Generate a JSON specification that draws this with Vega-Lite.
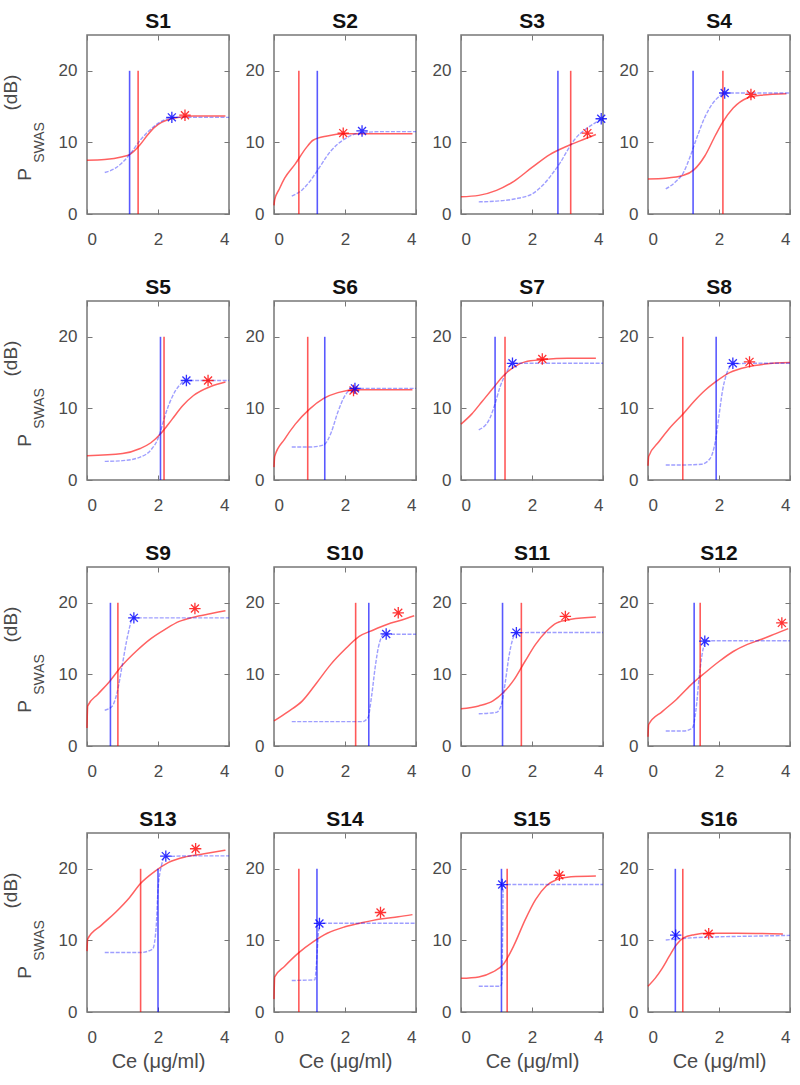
{
"$schema":"https://vega.github.io/schema/vega-lite/v6.json",
"padding":{"left":0,"top":9,"right":5,"bottom":5},
"datasets":{
"curves":[
{"p":"S1","s":"r","x":0,"y":7.5},{"p":"S1","s":"r","x":0.5,"y":7.6},{"p":"S1","s":"r","x":1.0,"y":8.0},{"p":"S1","s":"r","x":1.2,"y":8.3},{"p":"S1","s":"r","x":1.5,"y":9.7},{"p":"S1","s":"r","x":1.7,"y":11.0},{"p":"S1","s":"r","x":1.9,"y":12.1},{"p":"S1","s":"r","x":2.1,"y":12.8},{"p":"S1","s":"r","x":2.3,"y":13.2},{"p":"S1","s":"r","x":2.6,"y":13.5},{"p":"S1","s":"r","x":3.0,"y":13.7},{"p":"S1","s":"r","x":3.9,"y":13.7},
{"p":"S1","s":"b","x":0.5,"y":5.8},{"p":"S1","s":"b","x":0.8,"y":6.4},{"p":"S1","s":"b","x":1.0,"y":7.2},{"p":"S1","s":"b","x":1.2,"y":8.3},{"p":"S1","s":"b","x":1.5,"y":10.3},{"p":"S1","s":"b","x":1.9,"y":12.3},{"p":"S1","s":"b","x":2.2,"y":13.2},{"p":"S1","s":"b","x":2.4,"y":13.5},{"p":"S1","s":"b","x":3.0,"y":13.5},{"p":"S1","s":"b","x":4.0,"y":13.5},
{"p":"S2","s":"r","x":0,"y":1.2},{"p":"S2","s":"r","x":0.02,"y":2.0},{"p":"S2","s":"r","x":0.15,"y":3.5},{"p":"S2","s":"r","x":0.3,"y":5.0},{"p":"S2","s":"r","x":0.6,"y":7.0},{"p":"S2","s":"r","x":0.9,"y":9.2},{"p":"S2","s":"r","x":1.1,"y":10.3},{"p":"S2","s":"r","x":1.5,"y":10.9},{"p":"S2","s":"r","x":2.0,"y":11.2},{"p":"S2","s":"r","x":3.0,"y":11.2},{"p":"S2","s":"r","x":3.9,"y":11.2},
{"p":"S2","s":"b","x":0.5,"y":2.5},{"p":"S2","s":"b","x":0.8,"y":3.4},{"p":"S2","s":"b","x":1.0,"y":4.5},{"p":"S2","s":"b","x":1.2,"y":5.9},{"p":"S2","s":"b","x":1.6,"y":8.8},{"p":"S2","s":"b","x":2.0,"y":10.5},{"p":"S2","s":"b","x":2.4,"y":11.3},{"p":"S2","s":"b","x":3.0,"y":11.5},{"p":"S2","s":"b","x":4.0,"y":11.5},
{"p":"S3","s":"r","x":0,"y":2.4},{"p":"S3","s":"r","x":0.5,"y":2.6},{"p":"S3","s":"r","x":1.0,"y":3.3},{"p":"S3","s":"r","x":1.5,"y":4.6},{"p":"S3","s":"r","x":2.0,"y":6.5},{"p":"S3","s":"r","x":2.5,"y":8.3},{"p":"S3","s":"r","x":3.0,"y":9.5},{"p":"S3","s":"r","x":3.5,"y":10.5},{"p":"S3","s":"r","x":3.8,"y":11.1},
{"p":"S3","s":"b","x":0.5,"y":1.7},{"p":"S3","s":"b","x":1.0,"y":1.8},{"p":"S3","s":"b","x":1.5,"y":2.1},{"p":"S3","s":"b","x":2.0,"y":2.8},{"p":"S3","s":"b","x":2.3,"y":4.0},{"p":"S3","s":"b","x":2.6,"y":5.8},{"p":"S3","s":"b","x":2.8,"y":7.2},{"p":"S3","s":"b","x":3.0,"y":8.9},{"p":"S3","s":"b","x":3.2,"y":10.4},{"p":"S3","s":"b","x":3.5,"y":11.8},{"p":"S3","s":"b","x":3.8,"y":12.8},{"p":"S3","s":"b","x":3.95,"y":13.3},
{"p":"S4","s":"r","x":0,"y":4.9},{"p":"S4","s":"r","x":0.5,"y":5.0},{"p":"S4","s":"r","x":1.0,"y":5.4},{"p":"S4","s":"r","x":1.3,"y":6.2},{"p":"S4","s":"r","x":1.6,"y":8.1},{"p":"S4","s":"r","x":1.9,"y":11.0},{"p":"S4","s":"r","x":2.1,"y":12.8},{"p":"S4","s":"r","x":2.4,"y":14.8},{"p":"S4","s":"r","x":2.8,"y":16.2},{"p":"S4","s":"r","x":3.2,"y":16.6},{"p":"S4","s":"r","x":3.9,"y":16.8},
{"p":"S4","s":"b","x":0.5,"y":3.5},{"p":"S4","s":"b","x":0.8,"y":4.6},{"p":"S4","s":"b","x":1.0,"y":5.8},{"p":"S4","s":"b","x":1.2,"y":8.2},{"p":"S4","s":"b","x":1.4,"y":11.0},{"p":"S4","s":"b","x":1.6,"y":13.5},{"p":"S4","s":"b","x":1.8,"y":15.3},{"p":"S4","s":"b","x":2.0,"y":16.4},{"p":"S4","s":"b","x":2.15,"y":16.9},{"p":"S4","s":"b","x":3.0,"y":16.9},{"p":"S4","s":"b","x":4.0,"y":16.9},
{"p":"S5","s":"r","x":0,"y":3.4},{"p":"S5","s":"r","x":1.0,"y":3.7},{"p":"S5","s":"r","x":1.5,"y":4.4},{"p":"S5","s":"r","x":1.8,"y":5.2},{"p":"S5","s":"r","x":2.1,"y":6.6},{"p":"S5","s":"r","x":2.4,"y":8.5},{"p":"S5","s":"r","x":2.7,"y":10.4},{"p":"S5","s":"r","x":3.0,"y":11.8},{"p":"S5","s":"r","x":3.5,"y":13.1},{"p":"S5","s":"r","x":3.9,"y":13.7},
{"p":"S5","s":"b","x":0.5,"y":2.6},{"p":"S5","s":"b","x":1.0,"y":2.7},{"p":"S5","s":"b","x":1.5,"y":3.2},{"p":"S5","s":"b","x":1.8,"y":4.2},{"p":"S5","s":"b","x":2.0,"y":5.8},{"p":"S5","s":"b","x":2.1,"y":7.3},{"p":"S5","s":"b","x":2.2,"y":9.0},{"p":"S5","s":"b","x":2.4,"y":11.6},{"p":"S5","s":"b","x":2.6,"y":13.2},{"p":"S5","s":"b","x":2.8,"y":13.9},{"p":"S5","s":"b","x":4.0,"y":13.9},
{"p":"S6","s":"r","x":0,"y":1.8},{"p":"S6","s":"r","x":0.02,"y":3.3},{"p":"S6","s":"r","x":0.3,"y":5.7},{"p":"S6","s":"r","x":0.6,"y":7.8},{"p":"S6","s":"r","x":1.0,"y":9.9},{"p":"S6","s":"r","x":1.4,"y":11.4},{"p":"S6","s":"r","x":1.8,"y":12.2},{"p":"S6","s":"r","x":2.3,"y":12.6},{"p":"S6","s":"r","x":3.0,"y":12.6},{"p":"S6","s":"r","x":3.9,"y":12.6},
{"p":"S6","s":"b","x":0.5,"y":4.6},{"p":"S6","s":"b","x":1.0,"y":4.6},{"p":"S6","s":"b","x":1.4,"y":4.9},{"p":"S6","s":"b","x":1.6,"y":6.5},{"p":"S6","s":"b","x":1.8,"y":9.5},{"p":"S6","s":"b","x":2.0,"y":11.8},{"p":"S6","s":"b","x":2.25,"y":12.8},{"p":"S6","s":"b","x":3.0,"y":12.8},{"p":"S6","s":"b","x":4.0,"y":12.8},
{"p":"S7","s":"r","x":0,"y":7.8},{"p":"S7","s":"r","x":0.3,"y":9.2},{"p":"S7","s":"r","x":0.6,"y":11.0},{"p":"S7","s":"r","x":0.9,"y":12.8},{"p":"S7","s":"r","x":1.2,"y":14.6},{"p":"S7","s":"r","x":1.5,"y":15.8},{"p":"S7","s":"r","x":1.8,"y":16.5},{"p":"S7","s":"r","x":2.3,"y":16.8},{"p":"S7","s":"r","x":3.0,"y":17.0},{"p":"S7","s":"r","x":3.8,"y":17.0},
{"p":"S7","s":"b","x":0.5,"y":7.0},{"p":"S7","s":"b","x":0.8,"y":8.5},{"p":"S7","s":"b","x":0.95,"y":10.5},{"p":"S7","s":"b","x":1.1,"y":13.0},{"p":"S7","s":"b","x":1.3,"y":15.2},{"p":"S7","s":"b","x":1.45,"y":16.3},{"p":"S7","s":"b","x":2.0,"y":16.3},{"p":"S7","s":"b","x":4.0,"y":16.3},
{"p":"S8","s":"r","x":0,"y":2.0},{"p":"S8","s":"r","x":0.02,"y":3.3},{"p":"S8","s":"r","x":0.3,"y":5.3},{"p":"S8","s":"r","x":0.6,"y":7.2},{"p":"S8","s":"r","x":1.0,"y":9.3},{"p":"S8","s":"r","x":1.3,"y":11.0},{"p":"S8","s":"r","x":1.6,"y":12.5},{"p":"S8","s":"r","x":1.9,"y":13.7},{"p":"S8","s":"r","x":2.3,"y":15.0},{"p":"S8","s":"r","x":2.8,"y":15.8},{"p":"S8","s":"r","x":3.3,"y":16.2},{"p":"S8","s":"r","x":4.0,"y":16.4},
{"p":"S8","s":"b","x":0.5,"y":2.1},{"p":"S8","s":"b","x":1.0,"y":2.1},{"p":"S8","s":"b","x":1.5,"y":2.2},{"p":"S8","s":"b","x":1.75,"y":3.0},{"p":"S8","s":"b","x":1.9,"y":5.5},{"p":"S8","s":"b","x":2.0,"y":9.0},{"p":"S8","s":"b","x":2.1,"y":12.5},{"p":"S8","s":"b","x":2.2,"y":14.6},{"p":"S8","s":"b","x":2.4,"y":16.2},{"p":"S8","s":"b","x":3.0,"y":16.3},{"p":"S8","s":"b","x":4.0,"y":16.3},
{"p":"S9","s":"r","x":0,"y":2.5},{"p":"S9","s":"r","x":0.02,"y":5.6},{"p":"S9","s":"r","x":0.3,"y":7.2},{"p":"S9","s":"r","x":0.6,"y":8.8},{"p":"S9","s":"r","x":1.0,"y":11.3},{"p":"S9","s":"r","x":1.4,"y":13.3},{"p":"S9","s":"r","x":1.8,"y":15.0},{"p":"S9","s":"r","x":2.2,"y":16.3},{"p":"S9","s":"r","x":2.6,"y":17.4},{"p":"S9","s":"r","x":3.0,"y":18.0},{"p":"S9","s":"r","x":3.5,"y":18.5},{"p":"S9","s":"r","x":3.9,"y":18.9},
{"p":"S9","s":"b","x":0.5,"y":5.0},{"p":"S9","s":"b","x":0.7,"y":5.5},{"p":"S9","s":"b","x":0.85,"y":7.5},{"p":"S9","s":"b","x":1.0,"y":11.5},{"p":"S9","s":"b","x":1.15,"y":15.5},{"p":"S9","s":"b","x":1.3,"y":17.9},{"p":"S9","s":"b","x":2.0,"y":17.9},{"p":"S9","s":"b","x":4.0,"y":17.9},
{"p":"S10","s":"r","x":0,"y":3.5},{"p":"S10","s":"r","x":0.4,"y":4.8},{"p":"S10","s":"r","x":0.8,"y":6.3},{"p":"S10","s":"r","x":1.2,"y":8.8},{"p":"S10","s":"r","x":1.6,"y":11.4},{"p":"S10","s":"r","x":2.0,"y":13.5},{"p":"S10","s":"r","x":2.4,"y":15.3},{"p":"S10","s":"r","x":2.8,"y":16.2},{"p":"S10","s":"r","x":3.2,"y":17.0},{"p":"S10","s":"r","x":3.6,"y":17.6},{"p":"S10","s":"r","x":3.95,"y":18.2},
{"p":"S10","s":"b","x":0.5,"y":3.4},{"p":"S10","s":"b","x":1.5,"y":3.4},{"p":"S10","s":"b","x":2.5,"y":3.4},{"p":"S10","s":"b","x":2.65,"y":4.0},{"p":"S10","s":"b","x":2.75,"y":7.0},{"p":"S10","s":"b","x":2.85,"y":11.0},{"p":"S10","s":"b","x":2.95,"y":14.0},{"p":"S10","s":"b","x":3.1,"y":15.6},{"p":"S10","s":"b","x":3.5,"y":15.6},{"p":"S10","s":"b","x":4.0,"y":15.6},
{"p":"S11","s":"r","x":0,"y":5.2},{"p":"S11","s":"r","x":0.5,"y":5.6},{"p":"S11","s":"r","x":0.9,"y":6.3},{"p":"S11","s":"r","x":1.2,"y":7.5},{"p":"S11","s":"r","x":1.5,"y":9.3},{"p":"S11","s":"r","x":1.8,"y":11.8},{"p":"S11","s":"r","x":2.1,"y":14.2},{"p":"S11","s":"r","x":2.4,"y":16.0},{"p":"S11","s":"r","x":2.7,"y":17.2},{"p":"S11","s":"r","x":3.1,"y":17.7},{"p":"S11","s":"r","x":3.8,"y":18.0},
{"p":"S11","s":"b","x":0.5,"y":4.5},{"p":"S11","s":"b","x":1.0,"y":4.7},{"p":"S11","s":"b","x":1.15,"y":6.0},{"p":"S11","s":"b","x":1.25,"y":9.0},{"p":"S11","s":"b","x":1.35,"y":12.5},{"p":"S11","s":"b","x":1.45,"y":14.8},{"p":"S11","s":"b","x":1.55,"y":15.8},{"p":"S11","s":"b","x":2.0,"y":15.85},{"p":"S11","s":"b","x":4.0,"y":15.85},
{"p":"S12","s":"r","x":0,"y":1.3},{"p":"S12","s":"r","x":0.02,"y":3.0},{"p":"S12","s":"r","x":0.4,"y":4.8},{"p":"S12","s":"r","x":0.8,"y":6.5},{"p":"S12","s":"r","x":1.2,"y":8.5},{"p":"S12","s":"r","x":1.6,"y":10.2},{"p":"S12","s":"r","x":2.0,"y":11.8},{"p":"S12","s":"r","x":2.4,"y":13.2},{"p":"S12","s":"r","x":2.8,"y":14.2},{"p":"S12","s":"r","x":3.2,"y":14.9},{"p":"S12","s":"r","x":3.6,"y":15.7},{"p":"S12","s":"r","x":3.95,"y":16.4},
{"p":"S12","s":"b","x":0.5,"y":2.1},{"p":"S12","s":"b","x":1.0,"y":2.1},{"p":"S12","s":"b","x":1.25,"y":2.5},{"p":"S12","s":"b","x":1.35,"y":5.0},{"p":"S12","s":"b","x":1.45,"y":10.0},{"p":"S12","s":"b","x":1.55,"y":13.5},{"p":"S12","s":"b","x":1.65,"y":14.7},{"p":"S12","s":"b","x":2.0,"y":14.7},{"p":"S12","s":"b","x":4.0,"y":14.7},
{"p":"S13","s":"r","x":0,"y":8.5},{"p":"S13","s":"r","x":0.02,"y":10.2},{"p":"S13","s":"r","x":0.4,"y":12.1},{"p":"S13","s":"r","x":0.8,"y":13.9},{"p":"S13","s":"r","x":1.2,"y":16.0},{"p":"S13","s":"r","x":1.5,"y":17.9},{"p":"S13","s":"r","x":1.9,"y":19.6},{"p":"S13","s":"r","x":2.3,"y":20.9},{"p":"S13","s":"r","x":2.8,"y":21.7},{"p":"S13","s":"r","x":3.3,"y":22.1},{"p":"S13","s":"r","x":3.9,"y":22.6},
{"p":"S13","s":"b","x":0.5,"y":8.3},{"p":"S13","s":"b","x":1.5,"y":8.3},{"p":"S13","s":"b","x":1.85,"y":8.8},{"p":"S13","s":"b","x":1.95,"y":12.0},{"p":"S13","s":"b","x":2.0,"y":17.0},{"p":"S13","s":"b","x":2.1,"y":20.5},{"p":"S13","s":"b","x":2.2,"y":21.7},{"p":"S13","s":"b","x":3.0,"y":21.8},{"p":"S13","s":"b","x":4.0,"y":21.8},
{"p":"S14","s":"r","x":0,"y":1.8},{"p":"S14","s":"r","x":0.02,"y":4.9},{"p":"S14","s":"r","x":0.3,"y":6.4},{"p":"S14","s":"r","x":0.7,"y":8.3},{"p":"S14","s":"r","x":1.1,"y":9.8},{"p":"S14","s":"r","x":1.5,"y":11.0},{"p":"S14","s":"r","x":2.0,"y":11.9},{"p":"S14","s":"r","x":2.5,"y":12.5},{"p":"S14","s":"r","x":3.0,"y":13.0},{"p":"S14","s":"r","x":3.5,"y":13.3},{"p":"S14","s":"r","x":3.9,"y":13.6},
{"p":"S14","s":"b","x":0.5,"y":4.4},{"p":"S14","s":"b","x":1.15,"y":4.5},{"p":"S14","s":"b","x":1.2,"y":7.0},{"p":"S14","s":"b","x":1.25,"y":11.0},{"p":"S14","s":"b","x":1.3,"y":12.4},{"p":"S14","s":"b","x":2.0,"y":12.4},{"p":"S14","s":"b","x":4.0,"y":12.4},
{"p":"S15","s":"r","x":0,"y":4.7},{"p":"S15","s":"r","x":0.5,"y":4.9},{"p":"S15","s":"r","x":0.9,"y":5.6},{"p":"S15","s":"r","x":1.2,"y":6.7},{"p":"S15","s":"r","x":1.5,"y":9.4},{"p":"S15","s":"r","x":1.8,"y":12.8},{"p":"S15","s":"r","x":2.1,"y":15.7},{"p":"S15","s":"r","x":2.4,"y":17.6},{"p":"S15","s":"r","x":2.7,"y":18.5},{"p":"S15","s":"r","x":3.1,"y":18.9},{"p":"S15","s":"r","x":3.8,"y":19.0},
{"p":"S15","s":"b","x":0.5,"y":3.6},{"p":"S15","s":"b","x":1.1,"y":3.6},{"p":"S15","s":"b","x":1.15,"y":4.0},{"p":"S15","s":"b","x":1.17,"y":10.0},{"p":"S15","s":"b","x":1.19,"y":17.5},{"p":"S15","s":"b","x":1.22,"y":17.8},{"p":"S15","s":"b","x":2.0,"y":17.8},{"p":"S15","s":"b","x":4.0,"y":17.8},
{"p":"S16","s":"r","x":0,"y":3.6},{"p":"S16","s":"r","x":0.2,"y":4.7},{"p":"S16","s":"r","x":0.4,"y":6.1},{"p":"S16","s":"r","x":0.6,"y":7.8},{"p":"S16","s":"r","x":0.8,"y":9.4},{"p":"S16","s":"r","x":1.0,"y":10.35},{"p":"S16","s":"r","x":1.3,"y":10.8},{"p":"S16","s":"r","x":1.7,"y":11.0},{"p":"S16","s":"r","x":2.5,"y":11.0},{"p":"S16","s":"r","x":3.8,"y":10.9},
{"p":"S16","s":"b","x":0.5,"y":10.05},{"p":"S16","s":"b","x":0.8,"y":10.2},{"p":"S16","s":"b","x":1.2,"y":10.35},{"p":"S16","s":"b","x":2.0,"y":10.5},{"p":"S16","s":"b","x":3.0,"y":10.6},{"p":"S16","s":"b","x":4.0,"y":10.7}
],
"vlines":[
{"p":"S1","s":"r","x":1.44,"y0":0,"y1":20},{"p":"S1","s":"b","x":1.2,"y0":0,"y1":20},
{"p":"S2","s":"r","x":0.7,"y0":0,"y1":20},{"p":"S2","s":"b","x":1.22,"y0":0,"y1":20},
{"p":"S3","s":"r","x":3.09,"y0":0,"y1":20},{"p":"S3","s":"b","x":2.73,"y0":0,"y1":20},
{"p":"S4","s":"r","x":2.11,"y0":0,"y1":20},{"p":"S4","s":"b","x":1.27,"y0":0,"y1":20},
{"p":"S5","s":"r","x":2.17,"y0":0,"y1":20},{"p":"S5","s":"b","x":2.07,"y0":0,"y1":20},
{"p":"S6","s":"r","x":0.95,"y0":0,"y1":20},{"p":"S6","s":"b","x":1.43,"y0":0,"y1":20},
{"p":"S7","s":"r","x":1.24,"y0":0,"y1":20},{"p":"S7","s":"b","x":0.96,"y0":0,"y1":20},
{"p":"S8","s":"r","x":0.98,"y0":0,"y1":20},{"p":"S8","s":"b","x":1.92,"y0":0,"y1":20},
{"p":"S9","s":"r","x":0.87,"y0":0,"y1":20},{"p":"S9","s":"b","x":0.66,"y0":0,"y1":20},
{"p":"S10","s":"r","x":2.3,"y0":0,"y1":20},{"p":"S10","s":"b","x":2.67,"y0":0,"y1":20},
{"p":"S11","s":"r","x":1.7,"y0":0,"y1":20},{"p":"S11","s":"b","x":1.17,"y0":0,"y1":20},
{"p":"S12","s":"r","x":1.47,"y0":0,"y1":20},{"p":"S12","s":"b","x":1.3,"y0":0,"y1":20},
{"p":"S13","s":"r","x":1.51,"y0":0,"y1":20},{"p":"S13","s":"b","x":2.0,"y0":0,"y1":20},
{"p":"S14","s":"r","x":0.7,"y0":0,"y1":20},{"p":"S14","s":"b","x":1.21,"y0":0,"y1":20},
{"p":"S15","s":"r","x":1.3,"y0":0,"y1":20},{"p":"S15","s":"b","x":1.14,"y0":0,"y1":20},
{"p":"S16","s":"r","x":0.98,"y0":0,"y1":20},{"p":"S16","s":"b","x":0.77,"y0":0,"y1":20}
],
"stars":[
{"p":"S1","s":"r","x":2.76,"y":13.8},{"p":"S1","s":"b","x":2.39,"y":13.5},
{"p":"S2","s":"r","x":1.95,"y":11.3},{"p":"S2","s":"b","x":2.48,"y":11.6},
{"p":"S3","s":"r","x":3.56,"y":11.3},{"p":"S3","s":"b","x":3.95,"y":13.3},
{"p":"S4","s":"r","x":2.9,"y":16.7},{"p":"S4","s":"b","x":2.16,"y":16.9},
{"p":"S5","s":"r","x":3.41,"y":13.9},{"p":"S5","s":"b","x":2.8,"y":13.9},
{"p":"S6","s":"r","x":2.24,"y":12.5},{"p":"S6","s":"b","x":2.28,"y":12.8},
{"p":"S7","s":"r","x":2.29,"y":16.9},{"p":"S7","s":"b","x":1.45,"y":16.3},
{"p":"S8","s":"r","x":2.86,"y":16.5},{"p":"S8","s":"b","x":2.39,"y":16.3},
{"p":"S9","s":"r","x":3.04,"y":19.2},{"p":"S9","s":"b","x":1.32,"y":17.9},
{"p":"S10","s":"r","x":3.5,"y":18.6},{"p":"S10","s":"b","x":3.16,"y":15.65},
{"p":"S11","s":"r","x":2.94,"y":18.1},{"p":"S11","s":"b","x":1.56,"y":15.84},
{"p":"S12","s":"r","x":3.77,"y":17.2},{"p":"S12","s":"b","x":1.6,"y":14.64},
{"p":"S13","s":"r","x":3.06,"y":22.8},{"p":"S13","s":"b","x":2.22,"y":21.77},
{"p":"S14","s":"r","x":3.0,"y":13.9},{"p":"S14","s":"b","x":1.28,"y":12.37},
{"p":"S15","s":"r","x":2.77,"y":19.1},{"p":"S15","s":"b","x":1.16,"y":17.8},
{"p":"S16","s":"r","x":1.71,"y":10.93},{"p":"S16","s":"b","x":0.78,"y":10.74}
]
},
"columns":4,
"spacing":{"row":87,"column":45},
"bounds":"flush",
"concat":[
{"title":"S1","width":142,"height":179,"resolve":{"scale":{"x":"independent","y":"independent"},"axis":{"x":"independent","y":"independent"}},"layer":[
{"data":{"name":"curves"},"transform":[{"filter":"datum.p=='S1'&&datum.s=='r'"}],"mark":{"type":"line","color":"#ff0000","opacity":0.62,"strokeWidth":1.5,"interpolate":"monotone"},"encoding":{"x":{"field":"x","type":"quantitative","scale":{"domain":[0,4]},"axis":{"orient":"bottom","values":[0,2,4],"title":null}},"y":{"field":"y","type":"quantitative","scale":{"domain":[0,25],"nice":false},"axis":{"orient":"left","values":[0,10,20],"title":"P","titleX":-53,"titleY":139}}}},
{"data":{"name":"curves"},"transform":[{"filter":"datum.p=='S1'&&datum.s=='b'"}],"mark":{"type":"line","color":"#0000ff","opacity":0.38,"strokeWidth":1.4,"strokeDash":[4,1.5],"interpolate":"monotone"},"encoding":{"x":{"field":"x","type":"quantitative","scale":{"domain":[0,4]},"axis":{"orient":"top","values":[0,2,4],"labels":false,"title":null}},"y":{"field":"y","type":"quantitative","scale":{"domain":[0,25],"nice":false},"axis":{"orient":"left","labels":false,"ticks":false,"title":"SWAS","titleFontSize":14,"titleX":-41,"titleY":107}}}},
{"data":{"name":"vlines"},"transform":[{"filter":"datum.p=='S1'"}],"mark":{"type":"rule","strokeWidth":1.6,"opacity":0.65},"encoding":{"x":{"field":"x","type":"quantitative","scale":{"domain":[0,4]},"axis":null},"y":{"field":"y0","type":"quantitative","scale":{"domain":[0,25],"nice":false},"axis":{"orient":"left","labels":false,"ticks":false,"title":"(dB)","titleX":-66.5,"titleY":57}},"y2":{"field":"y1"},"color":{"field":"s","type":"nominal","scale":{"domain":["r","b"],"range":["#ff0000","#0000ff"]},"legend":null}}},
{"data":{"name":"stars"},"transform":[{"filter":"datum.p=='S1'"}],"mark":{"type":"point","shape":"M-1,0L1,0M0,-1L0,1M-0.7,-0.7L0.7,0.7M-0.7,0.7L0.7,-0.7","filled":false,"size":130,"strokeWidth":1.3,"opacity":0.8},"encoding":{"x":{"field":"x","type":"quantitative","scale":{"domain":[0,4]},"axis":null},"y":{"field":"y","type":"quantitative","scale":{"domain":[0,25],"nice":false},"axis":{"orient":"right","values":[0,10,20],"labels":false,"title":null}},"color":{"field":"s","type":"nominal","scale":{"domain":["r","b"],"range":["#ff0000","#0000ff"]},"legend":null}}}
]},
{"title":"S2","width":142,"height":179,"resolve":{"scale":{"x":"independent","y":"independent"},"axis":{"x":"independent","y":"independent"}},"layer":[
{"data":{"name":"curves"},"transform":[{"filter":"datum.p=='S2'&&datum.s=='r'"}],"mark":{"type":"line","color":"#ff0000","opacity":0.62,"strokeWidth":1.5,"interpolate":"monotone"},"encoding":{"x":{"field":"x","type":"quantitative","scale":{"domain":[0,4]},"axis":{"orient":"bottom","values":[0,2,4],"title":null}},"y":{"field":"y","type":"quantitative","scale":{"domain":[0,25],"nice":false},"axis":{"orient":"left","values":[0,10,20],"title":null}}}},
{"data":{"name":"curves"},"transform":[{"filter":"datum.p=='S2'&&datum.s=='b'"}],"mark":{"type":"line","color":"#0000ff","opacity":0.38,"strokeWidth":1.4,"strokeDash":[4,1.5],"interpolate":"monotone"},"encoding":{"x":{"field":"x","type":"quantitative","scale":{"domain":[0,4]},"axis":{"orient":"top","values":[0,2,4],"labels":false,"title":null}},"y":{"field":"y","type":"quantitative","scale":{"domain":[0,25],"nice":false},"axis":{"orient":"right","values":[0,10,20],"labels":false,"title":null}}}},
{"data":{"name":"vlines"},"transform":[{"filter":"datum.p=='S2'"}],"mark":{"type":"rule","strokeWidth":1.6,"opacity":0.65},"encoding":{"x":{"field":"x","type":"quantitative","scale":{"domain":[0,4]},"axis":null},"y":{"field":"y0","type":"quantitative","scale":{"domain":[0,25],"nice":false},"axis":null},"y2":{"field":"y1"},"color":{"field":"s","type":"nominal","scale":{"domain":["r","b"],"range":["#ff0000","#0000ff"]},"legend":null}}},
{"data":{"name":"stars"},"transform":[{"filter":"datum.p=='S2'"}],"mark":{"type":"point","shape":"M-1,0L1,0M0,-1L0,1M-0.7,-0.7L0.7,0.7M-0.7,0.7L0.7,-0.7","filled":false,"size":130,"strokeWidth":1.3,"opacity":0.8},"encoding":{"x":{"field":"x","type":"quantitative","scale":{"domain":[0,4]},"axis":null},"y":{"field":"y","type":"quantitative","scale":{"domain":[0,25],"nice":false},"axis":null},"color":{"field":"s","type":"nominal","scale":{"domain":["r","b"],"range":["#ff0000","#0000ff"]},"legend":null}}}
]},
{"title":"S3","width":142,"height":179,"resolve":{"scale":{"x":"independent","y":"independent"},"axis":{"x":"independent","y":"independent"}},"layer":[
{"data":{"name":"curves"},"transform":[{"filter":"datum.p=='S3'&&datum.s=='r'"}],"mark":{"type":"line","color":"#ff0000","opacity":0.62,"strokeWidth":1.5,"interpolate":"monotone"},"encoding":{"x":{"field":"x","type":"quantitative","scale":{"domain":[0,4]},"axis":{"orient":"bottom","values":[0,2,4],"title":null}},"y":{"field":"y","type":"quantitative","scale":{"domain":[0,25],"nice":false},"axis":{"orient":"left","values":[0,10,20],"title":null}}}},
{"data":{"name":"curves"},"transform":[{"filter":"datum.p=='S3'&&datum.s=='b'"}],"mark":{"type":"line","color":"#0000ff","opacity":0.38,"strokeWidth":1.4,"strokeDash":[4,1.5],"interpolate":"monotone"},"encoding":{"x":{"field":"x","type":"quantitative","scale":{"domain":[0,4]},"axis":{"orient":"top","values":[0,2,4],"labels":false,"title":null}},"y":{"field":"y","type":"quantitative","scale":{"domain":[0,25],"nice":false},"axis":{"orient":"right","values":[0,10,20],"labels":false,"title":null}}}},
{"data":{"name":"vlines"},"transform":[{"filter":"datum.p=='S3'"}],"mark":{"type":"rule","strokeWidth":1.6,"opacity":0.65},"encoding":{"x":{"field":"x","type":"quantitative","scale":{"domain":[0,4]},"axis":null},"y":{"field":"y0","type":"quantitative","scale":{"domain":[0,25],"nice":false},"axis":null},"y2":{"field":"y1"},"color":{"field":"s","type":"nominal","scale":{"domain":["r","b"],"range":["#ff0000","#0000ff"]},"legend":null}}},
{"data":{"name":"stars"},"transform":[{"filter":"datum.p=='S3'"}],"mark":{"type":"point","shape":"M-1,0L1,0M0,-1L0,1M-0.7,-0.7L0.7,0.7M-0.7,0.7L0.7,-0.7","filled":false,"size":130,"strokeWidth":1.3,"opacity":0.8},"encoding":{"x":{"field":"x","type":"quantitative","scale":{"domain":[0,4]},"axis":null},"y":{"field":"y","type":"quantitative","scale":{"domain":[0,25],"nice":false},"axis":null},"color":{"field":"s","type":"nominal","scale":{"domain":["r","b"],"range":["#ff0000","#0000ff"]},"legend":null}}}
]},
{"title":"S4","width":142,"height":179,"resolve":{"scale":{"x":"independent","y":"independent"},"axis":{"x":"independent","y":"independent"}},"layer":[
{"data":{"name":"curves"},"transform":[{"filter":"datum.p=='S4'&&datum.s=='r'"}],"mark":{"type":"line","color":"#ff0000","opacity":0.62,"strokeWidth":1.5,"interpolate":"monotone"},"encoding":{"x":{"field":"x","type":"quantitative","scale":{"domain":[0,4]},"axis":{"orient":"bottom","values":[0,2,4],"title":null}},"y":{"field":"y","type":"quantitative","scale":{"domain":[0,25],"nice":false},"axis":{"orient":"left","values":[0,10,20],"title":null}}}},
{"data":{"name":"curves"},"transform":[{"filter":"datum.p=='S4'&&datum.s=='b'"}],"mark":{"type":"line","color":"#0000ff","opacity":0.38,"strokeWidth":1.4,"strokeDash":[4,1.5],"interpolate":"monotone"},"encoding":{"x":{"field":"x","type":"quantitative","scale":{"domain":[0,4]},"axis":{"orient":"top","values":[0,2,4],"labels":false,"title":null}},"y":{"field":"y","type":"quantitative","scale":{"domain":[0,25],"nice":false},"axis":{"orient":"right","values":[0,10,20],"labels":false,"title":null}}}},
{"data":{"name":"vlines"},"transform":[{"filter":"datum.p=='S4'"}],"mark":{"type":"rule","strokeWidth":1.6,"opacity":0.65},"encoding":{"x":{"field":"x","type":"quantitative","scale":{"domain":[0,4]},"axis":null},"y":{"field":"y0","type":"quantitative","scale":{"domain":[0,25],"nice":false},"axis":null},"y2":{"field":"y1"},"color":{"field":"s","type":"nominal","scale":{"domain":["r","b"],"range":["#ff0000","#0000ff"]},"legend":null}}},
{"data":{"name":"stars"},"transform":[{"filter":"datum.p=='S4'"}],"mark":{"type":"point","shape":"M-1,0L1,0M0,-1L0,1M-0.7,-0.7L0.7,0.7M-0.7,0.7L0.7,-0.7","filled":false,"size":130,"strokeWidth":1.3,"opacity":0.8},"encoding":{"x":{"field":"x","type":"quantitative","scale":{"domain":[0,4]},"axis":null},"y":{"field":"y","type":"quantitative","scale":{"domain":[0,25],"nice":false},"axis":null},"color":{"field":"s","type":"nominal","scale":{"domain":["r","b"],"range":["#ff0000","#0000ff"]},"legend":null}}}
]},
{"title":"S5","width":142,"height":179,"resolve":{"scale":{"x":"independent","y":"independent"},"axis":{"x":"independent","y":"independent"}},"layer":[
{"data":{"name":"curves"},"transform":[{"filter":"datum.p=='S5'&&datum.s=='r'"}],"mark":{"type":"line","color":"#ff0000","opacity":0.62,"strokeWidth":1.5,"interpolate":"monotone"},"encoding":{"x":{"field":"x","type":"quantitative","scale":{"domain":[0,4]},"axis":{"orient":"bottom","values":[0,2,4],"title":null}},"y":{"field":"y","type":"quantitative","scale":{"domain":[0,25],"nice":false},"axis":{"orient":"left","values":[0,10,20],"title":"P","titleX":-53,"titleY":139}}}},
{"data":{"name":"curves"},"transform":[{"filter":"datum.p=='S5'&&datum.s=='b'"}],"mark":{"type":"line","color":"#0000ff","opacity":0.38,"strokeWidth":1.4,"strokeDash":[4,1.5],"interpolate":"monotone"},"encoding":{"x":{"field":"x","type":"quantitative","scale":{"domain":[0,4]},"axis":{"orient":"top","values":[0,2,4],"labels":false,"title":null}},"y":{"field":"y","type":"quantitative","scale":{"domain":[0,25],"nice":false},"axis":{"orient":"left","labels":false,"ticks":false,"title":"SWAS","titleFontSize":14,"titleX":-41,"titleY":107}}}},
{"data":{"name":"vlines"},"transform":[{"filter":"datum.p=='S5'"}],"mark":{"type":"rule","strokeWidth":1.6,"opacity":0.65},"encoding":{"x":{"field":"x","type":"quantitative","scale":{"domain":[0,4]},"axis":null},"y":{"field":"y0","type":"quantitative","scale":{"domain":[0,25],"nice":false},"axis":{"orient":"left","labels":false,"ticks":false,"title":"(dB)","titleX":-66.5,"titleY":57}},"y2":{"field":"y1"},"color":{"field":"s","type":"nominal","scale":{"domain":["r","b"],"range":["#ff0000","#0000ff"]},"legend":null}}},
{"data":{"name":"stars"},"transform":[{"filter":"datum.p=='S5'"}],"mark":{"type":"point","shape":"M-1,0L1,0M0,-1L0,1M-0.7,-0.7L0.7,0.7M-0.7,0.7L0.7,-0.7","filled":false,"size":130,"strokeWidth":1.3,"opacity":0.8},"encoding":{"x":{"field":"x","type":"quantitative","scale":{"domain":[0,4]},"axis":null},"y":{"field":"y","type":"quantitative","scale":{"domain":[0,25],"nice":false},"axis":{"orient":"right","values":[0,10,20],"labels":false,"title":null}},"color":{"field":"s","type":"nominal","scale":{"domain":["r","b"],"range":["#ff0000","#0000ff"]},"legend":null}}}
]},
{"title":"S6","width":142,"height":179,"resolve":{"scale":{"x":"independent","y":"independent"},"axis":{"x":"independent","y":"independent"}},"layer":[
{"data":{"name":"curves"},"transform":[{"filter":"datum.p=='S6'&&datum.s=='r'"}],"mark":{"type":"line","color":"#ff0000","opacity":0.62,"strokeWidth":1.5,"interpolate":"monotone"},"encoding":{"x":{"field":"x","type":"quantitative","scale":{"domain":[0,4]},"axis":{"orient":"bottom","values":[0,2,4],"title":null}},"y":{"field":"y","type":"quantitative","scale":{"domain":[0,25],"nice":false},"axis":{"orient":"left","values":[0,10,20],"title":null}}}},
{"data":{"name":"curves"},"transform":[{"filter":"datum.p=='S6'&&datum.s=='b'"}],"mark":{"type":"line","color":"#0000ff","opacity":0.38,"strokeWidth":1.4,"strokeDash":[4,1.5],"interpolate":"monotone"},"encoding":{"x":{"field":"x","type":"quantitative","scale":{"domain":[0,4]},"axis":{"orient":"top","values":[0,2,4],"labels":false,"title":null}},"y":{"field":"y","type":"quantitative","scale":{"domain":[0,25],"nice":false},"axis":{"orient":"right","values":[0,10,20],"labels":false,"title":null}}}},
{"data":{"name":"vlines"},"transform":[{"filter":"datum.p=='S6'"}],"mark":{"type":"rule","strokeWidth":1.6,"opacity":0.65},"encoding":{"x":{"field":"x","type":"quantitative","scale":{"domain":[0,4]},"axis":null},"y":{"field":"y0","type":"quantitative","scale":{"domain":[0,25],"nice":false},"axis":null},"y2":{"field":"y1"},"color":{"field":"s","type":"nominal","scale":{"domain":["r","b"],"range":["#ff0000","#0000ff"]},"legend":null}}},
{"data":{"name":"stars"},"transform":[{"filter":"datum.p=='S6'"}],"mark":{"type":"point","shape":"M-1,0L1,0M0,-1L0,1M-0.7,-0.7L0.7,0.7M-0.7,0.7L0.7,-0.7","filled":false,"size":130,"strokeWidth":1.3,"opacity":0.8},"encoding":{"x":{"field":"x","type":"quantitative","scale":{"domain":[0,4]},"axis":null},"y":{"field":"y","type":"quantitative","scale":{"domain":[0,25],"nice":false},"axis":null},"color":{"field":"s","type":"nominal","scale":{"domain":["r","b"],"range":["#ff0000","#0000ff"]},"legend":null}}}
]},
{"title":"S7","width":142,"height":179,"resolve":{"scale":{"x":"independent","y":"independent"},"axis":{"x":"independent","y":"independent"}},"layer":[
{"data":{"name":"curves"},"transform":[{"filter":"datum.p=='S7'&&datum.s=='r'"}],"mark":{"type":"line","color":"#ff0000","opacity":0.62,"strokeWidth":1.5,"interpolate":"monotone"},"encoding":{"x":{"field":"x","type":"quantitative","scale":{"domain":[0,4]},"axis":{"orient":"bottom","values":[0,2,4],"title":null}},"y":{"field":"y","type":"quantitative","scale":{"domain":[0,25],"nice":false},"axis":{"orient":"left","values":[0,10,20],"title":null}}}},
{"data":{"name":"curves"},"transform":[{"filter":"datum.p=='S7'&&datum.s=='b'"}],"mark":{"type":"line","color":"#0000ff","opacity":0.38,"strokeWidth":1.4,"strokeDash":[4,1.5],"interpolate":"monotone"},"encoding":{"x":{"field":"x","type":"quantitative","scale":{"domain":[0,4]},"axis":{"orient":"top","values":[0,2,4],"labels":false,"title":null}},"y":{"field":"y","type":"quantitative","scale":{"domain":[0,25],"nice":false},"axis":{"orient":"right","values":[0,10,20],"labels":false,"title":null}}}},
{"data":{"name":"vlines"},"transform":[{"filter":"datum.p=='S7'"}],"mark":{"type":"rule","strokeWidth":1.6,"opacity":0.65},"encoding":{"x":{"field":"x","type":"quantitative","scale":{"domain":[0,4]},"axis":null},"y":{"field":"y0","type":"quantitative","scale":{"domain":[0,25],"nice":false},"axis":null},"y2":{"field":"y1"},"color":{"field":"s","type":"nominal","scale":{"domain":["r","b"],"range":["#ff0000","#0000ff"]},"legend":null}}},
{"data":{"name":"stars"},"transform":[{"filter":"datum.p=='S7'"}],"mark":{"type":"point","shape":"M-1,0L1,0M0,-1L0,1M-0.7,-0.7L0.7,0.7M-0.7,0.7L0.7,-0.7","filled":false,"size":130,"strokeWidth":1.3,"opacity":0.8},"encoding":{"x":{"field":"x","type":"quantitative","scale":{"domain":[0,4]},"axis":null},"y":{"field":"y","type":"quantitative","scale":{"domain":[0,25],"nice":false},"axis":null},"color":{"field":"s","type":"nominal","scale":{"domain":["r","b"],"range":["#ff0000","#0000ff"]},"legend":null}}}
]},
{"title":"S8","width":142,"height":179,"resolve":{"scale":{"x":"independent","y":"independent"},"axis":{"x":"independent","y":"independent"}},"layer":[
{"data":{"name":"curves"},"transform":[{"filter":"datum.p=='S8'&&datum.s=='r'"}],"mark":{"type":"line","color":"#ff0000","opacity":0.62,"strokeWidth":1.5,"interpolate":"monotone"},"encoding":{"x":{"field":"x","type":"quantitative","scale":{"domain":[0,4]},"axis":{"orient":"bottom","values":[0,2,4],"title":null}},"y":{"field":"y","type":"quantitative","scale":{"domain":[0,25],"nice":false},"axis":{"orient":"left","values":[0,10,20],"title":null}}}},
{"data":{"name":"curves"},"transform":[{"filter":"datum.p=='S8'&&datum.s=='b'"}],"mark":{"type":"line","color":"#0000ff","opacity":0.38,"strokeWidth":1.4,"strokeDash":[4,1.5],"interpolate":"monotone"},"encoding":{"x":{"field":"x","type":"quantitative","scale":{"domain":[0,4]},"axis":{"orient":"top","values":[0,2,4],"labels":false,"title":null}},"y":{"field":"y","type":"quantitative","scale":{"domain":[0,25],"nice":false},"axis":{"orient":"right","values":[0,10,20],"labels":false,"title":null}}}},
{"data":{"name":"vlines"},"transform":[{"filter":"datum.p=='S8'"}],"mark":{"type":"rule","strokeWidth":1.6,"opacity":0.65},"encoding":{"x":{"field":"x","type":"quantitative","scale":{"domain":[0,4]},"axis":null},"y":{"field":"y0","type":"quantitative","scale":{"domain":[0,25],"nice":false},"axis":null},"y2":{"field":"y1"},"color":{"field":"s","type":"nominal","scale":{"domain":["r","b"],"range":["#ff0000","#0000ff"]},"legend":null}}},
{"data":{"name":"stars"},"transform":[{"filter":"datum.p=='S8'"}],"mark":{"type":"point","shape":"M-1,0L1,0M0,-1L0,1M-0.7,-0.7L0.7,0.7M-0.7,0.7L0.7,-0.7","filled":false,"size":130,"strokeWidth":1.3,"opacity":0.8},"encoding":{"x":{"field":"x","type":"quantitative","scale":{"domain":[0,4]},"axis":null},"y":{"field":"y","type":"quantitative","scale":{"domain":[0,25],"nice":false},"axis":null},"color":{"field":"s","type":"nominal","scale":{"domain":["r","b"],"range":["#ff0000","#0000ff"]},"legend":null}}}
]},
{"title":"S9","width":142,"height":179,"resolve":{"scale":{"x":"independent","y":"independent"},"axis":{"x":"independent","y":"independent"}},"layer":[
{"data":{"name":"curves"},"transform":[{"filter":"datum.p=='S9'&&datum.s=='r'"}],"mark":{"type":"line","color":"#ff0000","opacity":0.62,"strokeWidth":1.5,"interpolate":"monotone"},"encoding":{"x":{"field":"x","type":"quantitative","scale":{"domain":[0,4]},"axis":{"orient":"bottom","values":[0,2,4],"title":null}},"y":{"field":"y","type":"quantitative","scale":{"domain":[0,25],"nice":false},"axis":{"orient":"left","values":[0,10,20],"title":"P","titleX":-53,"titleY":139}}}},
{"data":{"name":"curves"},"transform":[{"filter":"datum.p=='S9'&&datum.s=='b'"}],"mark":{"type":"line","color":"#0000ff","opacity":0.38,"strokeWidth":1.4,"strokeDash":[4,1.5],"interpolate":"monotone"},"encoding":{"x":{"field":"x","type":"quantitative","scale":{"domain":[0,4]},"axis":{"orient":"top","values":[0,2,4],"labels":false,"title":null}},"y":{"field":"y","type":"quantitative","scale":{"domain":[0,25],"nice":false},"axis":{"orient":"left","labels":false,"ticks":false,"title":"SWAS","titleFontSize":14,"titleX":-41,"titleY":107}}}},
{"data":{"name":"vlines"},"transform":[{"filter":"datum.p=='S9'"}],"mark":{"type":"rule","strokeWidth":1.6,"opacity":0.65},"encoding":{"x":{"field":"x","type":"quantitative","scale":{"domain":[0,4]},"axis":null},"y":{"field":"y0","type":"quantitative","scale":{"domain":[0,25],"nice":false},"axis":{"orient":"left","labels":false,"ticks":false,"title":"(dB)","titleX":-66.5,"titleY":57}},"y2":{"field":"y1"},"color":{"field":"s","type":"nominal","scale":{"domain":["r","b"],"range":["#ff0000","#0000ff"]},"legend":null}}},
{"data":{"name":"stars"},"transform":[{"filter":"datum.p=='S9'"}],"mark":{"type":"point","shape":"M-1,0L1,0M0,-1L0,1M-0.7,-0.7L0.7,0.7M-0.7,0.7L0.7,-0.7","filled":false,"size":130,"strokeWidth":1.3,"opacity":0.8},"encoding":{"x":{"field":"x","type":"quantitative","scale":{"domain":[0,4]},"axis":null},"y":{"field":"y","type":"quantitative","scale":{"domain":[0,25],"nice":false},"axis":{"orient":"right","values":[0,10,20],"labels":false,"title":null}},"color":{"field":"s","type":"nominal","scale":{"domain":["r","b"],"range":["#ff0000","#0000ff"]},"legend":null}}}
]},
{"title":"S10","width":142,"height":179,"resolve":{"scale":{"x":"independent","y":"independent"},"axis":{"x":"independent","y":"independent"}},"layer":[
{"data":{"name":"curves"},"transform":[{"filter":"datum.p=='S10'&&datum.s=='r'"}],"mark":{"type":"line","color":"#ff0000","opacity":0.62,"strokeWidth":1.5,"interpolate":"monotone"},"encoding":{"x":{"field":"x","type":"quantitative","scale":{"domain":[0,4]},"axis":{"orient":"bottom","values":[0,2,4],"title":null}},"y":{"field":"y","type":"quantitative","scale":{"domain":[0,25],"nice":false},"axis":{"orient":"left","values":[0,10,20],"title":null}}}},
{"data":{"name":"curves"},"transform":[{"filter":"datum.p=='S10'&&datum.s=='b'"}],"mark":{"type":"line","color":"#0000ff","opacity":0.38,"strokeWidth":1.4,"strokeDash":[4,1.5],"interpolate":"monotone"},"encoding":{"x":{"field":"x","type":"quantitative","scale":{"domain":[0,4]},"axis":{"orient":"top","values":[0,2,4],"labels":false,"title":null}},"y":{"field":"y","type":"quantitative","scale":{"domain":[0,25],"nice":false},"axis":{"orient":"right","values":[0,10,20],"labels":false,"title":null}}}},
{"data":{"name":"vlines"},"transform":[{"filter":"datum.p=='S10'"}],"mark":{"type":"rule","strokeWidth":1.6,"opacity":0.65},"encoding":{"x":{"field":"x","type":"quantitative","scale":{"domain":[0,4]},"axis":null},"y":{"field":"y0","type":"quantitative","scale":{"domain":[0,25],"nice":false},"axis":null},"y2":{"field":"y1"},"color":{"field":"s","type":"nominal","scale":{"domain":["r","b"],"range":["#ff0000","#0000ff"]},"legend":null}}},
{"data":{"name":"stars"},"transform":[{"filter":"datum.p=='S10'"}],"mark":{"type":"point","shape":"M-1,0L1,0M0,-1L0,1M-0.7,-0.7L0.7,0.7M-0.7,0.7L0.7,-0.7","filled":false,"size":130,"strokeWidth":1.3,"opacity":0.8},"encoding":{"x":{"field":"x","type":"quantitative","scale":{"domain":[0,4]},"axis":null},"y":{"field":"y","type":"quantitative","scale":{"domain":[0,25],"nice":false},"axis":null},"color":{"field":"s","type":"nominal","scale":{"domain":["r","b"],"range":["#ff0000","#0000ff"]},"legend":null}}}
]},
{"title":"S11","width":142,"height":179,"resolve":{"scale":{"x":"independent","y":"independent"},"axis":{"x":"independent","y":"independent"}},"layer":[
{"data":{"name":"curves"},"transform":[{"filter":"datum.p=='S11'&&datum.s=='r'"}],"mark":{"type":"line","color":"#ff0000","opacity":0.62,"strokeWidth":1.5,"interpolate":"monotone"},"encoding":{"x":{"field":"x","type":"quantitative","scale":{"domain":[0,4]},"axis":{"orient":"bottom","values":[0,2,4],"title":null}},"y":{"field":"y","type":"quantitative","scale":{"domain":[0,25],"nice":false},"axis":{"orient":"left","values":[0,10,20],"title":null}}}},
{"data":{"name":"curves"},"transform":[{"filter":"datum.p=='S11'&&datum.s=='b'"}],"mark":{"type":"line","color":"#0000ff","opacity":0.38,"strokeWidth":1.4,"strokeDash":[4,1.5],"interpolate":"monotone"},"encoding":{"x":{"field":"x","type":"quantitative","scale":{"domain":[0,4]},"axis":{"orient":"top","values":[0,2,4],"labels":false,"title":null}},"y":{"field":"y","type":"quantitative","scale":{"domain":[0,25],"nice":false},"axis":{"orient":"right","values":[0,10,20],"labels":false,"title":null}}}},
{"data":{"name":"vlines"},"transform":[{"filter":"datum.p=='S11'"}],"mark":{"type":"rule","strokeWidth":1.6,"opacity":0.65},"encoding":{"x":{"field":"x","type":"quantitative","scale":{"domain":[0,4]},"axis":null},"y":{"field":"y0","type":"quantitative","scale":{"domain":[0,25],"nice":false},"axis":null},"y2":{"field":"y1"},"color":{"field":"s","type":"nominal","scale":{"domain":["r","b"],"range":["#ff0000","#0000ff"]},"legend":null}}},
{"data":{"name":"stars"},"transform":[{"filter":"datum.p=='S11'"}],"mark":{"type":"point","shape":"M-1,0L1,0M0,-1L0,1M-0.7,-0.7L0.7,0.7M-0.7,0.7L0.7,-0.7","filled":false,"size":130,"strokeWidth":1.3,"opacity":0.8},"encoding":{"x":{"field":"x","type":"quantitative","scale":{"domain":[0,4]},"axis":null},"y":{"field":"y","type":"quantitative","scale":{"domain":[0,25],"nice":false},"axis":null},"color":{"field":"s","type":"nominal","scale":{"domain":["r","b"],"range":["#ff0000","#0000ff"]},"legend":null}}}
]},
{"title":"S12","width":142,"height":179,"resolve":{"scale":{"x":"independent","y":"independent"},"axis":{"x":"independent","y":"independent"}},"layer":[
{"data":{"name":"curves"},"transform":[{"filter":"datum.p=='S12'&&datum.s=='r'"}],"mark":{"type":"line","color":"#ff0000","opacity":0.62,"strokeWidth":1.5,"interpolate":"monotone"},"encoding":{"x":{"field":"x","type":"quantitative","scale":{"domain":[0,4]},"axis":{"orient":"bottom","values":[0,2,4],"title":null}},"y":{"field":"y","type":"quantitative","scale":{"domain":[0,25],"nice":false},"axis":{"orient":"left","values":[0,10,20],"title":null}}}},
{"data":{"name":"curves"},"transform":[{"filter":"datum.p=='S12'&&datum.s=='b'"}],"mark":{"type":"line","color":"#0000ff","opacity":0.38,"strokeWidth":1.4,"strokeDash":[4,1.5],"interpolate":"monotone"},"encoding":{"x":{"field":"x","type":"quantitative","scale":{"domain":[0,4]},"axis":{"orient":"top","values":[0,2,4],"labels":false,"title":null}},"y":{"field":"y","type":"quantitative","scale":{"domain":[0,25],"nice":false},"axis":{"orient":"right","values":[0,10,20],"labels":false,"title":null}}}},
{"data":{"name":"vlines"},"transform":[{"filter":"datum.p=='S12'"}],"mark":{"type":"rule","strokeWidth":1.6,"opacity":0.65},"encoding":{"x":{"field":"x","type":"quantitative","scale":{"domain":[0,4]},"axis":null},"y":{"field":"y0","type":"quantitative","scale":{"domain":[0,25],"nice":false},"axis":null},"y2":{"field":"y1"},"color":{"field":"s","type":"nominal","scale":{"domain":["r","b"],"range":["#ff0000","#0000ff"]},"legend":null}}},
{"data":{"name":"stars"},"transform":[{"filter":"datum.p=='S12'"}],"mark":{"type":"point","shape":"M-1,0L1,0M0,-1L0,1M-0.7,-0.7L0.7,0.7M-0.7,0.7L0.7,-0.7","filled":false,"size":130,"strokeWidth":1.3,"opacity":0.8},"encoding":{"x":{"field":"x","type":"quantitative","scale":{"domain":[0,4]},"axis":null},"y":{"field":"y","type":"quantitative","scale":{"domain":[0,25],"nice":false},"axis":null},"color":{"field":"s","type":"nominal","scale":{"domain":["r","b"],"range":["#ff0000","#0000ff"]},"legend":null}}}
]},
{"title":"S13","width":142,"height":179,"resolve":{"scale":{"x":"independent","y":"independent"},"axis":{"x":"independent","y":"independent"}},"layer":[
{"data":{"name":"curves"},"transform":[{"filter":"datum.p=='S13'&&datum.s=='r'"}],"mark":{"type":"line","color":"#ff0000","opacity":0.62,"strokeWidth":1.5,"interpolate":"monotone"},"encoding":{"x":{"field":"x","type":"quantitative","scale":{"domain":[0,4]},"axis":{"orient":"bottom","values":[0,2,4],"title":"Ce (μg/ml)"}},"y":{"field":"y","type":"quantitative","scale":{"domain":[0,25],"nice":false},"axis":{"orient":"left","values":[0,10,20],"title":"P","titleX":-53,"titleY":139}}}},
{"data":{"name":"curves"},"transform":[{"filter":"datum.p=='S13'&&datum.s=='b'"}],"mark":{"type":"line","color":"#0000ff","opacity":0.38,"strokeWidth":1.4,"strokeDash":[4,1.5],"interpolate":"monotone"},"encoding":{"x":{"field":"x","type":"quantitative","scale":{"domain":[0,4]},"axis":{"orient":"top","values":[0,2,4],"labels":false,"title":null}},"y":{"field":"y","type":"quantitative","scale":{"domain":[0,25],"nice":false},"axis":{"orient":"left","labels":false,"ticks":false,"title":"SWAS","titleFontSize":14,"titleX":-41,"titleY":107}}}},
{"data":{"name":"vlines"},"transform":[{"filter":"datum.p=='S13'"}],"mark":{"type":"rule","strokeWidth":1.6,"opacity":0.65},"encoding":{"x":{"field":"x","type":"quantitative","scale":{"domain":[0,4]},"axis":null},"y":{"field":"y0","type":"quantitative","scale":{"domain":[0,25],"nice":false},"axis":{"orient":"left","labels":false,"ticks":false,"title":"(dB)","titleX":-66.5,"titleY":57}},"y2":{"field":"y1"},"color":{"field":"s","type":"nominal","scale":{"domain":["r","b"],"range":["#ff0000","#0000ff"]},"legend":null}}},
{"data":{"name":"stars"},"transform":[{"filter":"datum.p=='S13'"}],"mark":{"type":"point","shape":"M-1,0L1,0M0,-1L0,1M-0.7,-0.7L0.7,0.7M-0.7,0.7L0.7,-0.7","filled":false,"size":130,"strokeWidth":1.3,"opacity":0.8},"encoding":{"x":{"field":"x","type":"quantitative","scale":{"domain":[0,4]},"axis":null},"y":{"field":"y","type":"quantitative","scale":{"domain":[0,25],"nice":false},"axis":{"orient":"right","values":[0,10,20],"labels":false,"title":null}},"color":{"field":"s","type":"nominal","scale":{"domain":["r","b"],"range":["#ff0000","#0000ff"]},"legend":null}}}
]},
{"title":"S14","width":142,"height":179,"resolve":{"scale":{"x":"independent","y":"independent"},"axis":{"x":"independent","y":"independent"}},"layer":[
{"data":{"name":"curves"},"transform":[{"filter":"datum.p=='S14'&&datum.s=='r'"}],"mark":{"type":"line","color":"#ff0000","opacity":0.62,"strokeWidth":1.5,"interpolate":"monotone"},"encoding":{"x":{"field":"x","type":"quantitative","scale":{"domain":[0,4]},"axis":{"orient":"bottom","values":[0,2,4],"title":"Ce (μg/ml)"}},"y":{"field":"y","type":"quantitative","scale":{"domain":[0,25],"nice":false},"axis":{"orient":"left","values":[0,10,20],"title":null}}}},
{"data":{"name":"curves"},"transform":[{"filter":"datum.p=='S14'&&datum.s=='b'"}],"mark":{"type":"line","color":"#0000ff","opacity":0.38,"strokeWidth":1.4,"strokeDash":[4,1.5],"interpolate":"monotone"},"encoding":{"x":{"field":"x","type":"quantitative","scale":{"domain":[0,4]},"axis":{"orient":"top","values":[0,2,4],"labels":false,"title":null}},"y":{"field":"y","type":"quantitative","scale":{"domain":[0,25],"nice":false},"axis":{"orient":"right","values":[0,10,20],"labels":false,"title":null}}}},
{"data":{"name":"vlines"},"transform":[{"filter":"datum.p=='S14'"}],"mark":{"type":"rule","strokeWidth":1.6,"opacity":0.65},"encoding":{"x":{"field":"x","type":"quantitative","scale":{"domain":[0,4]},"axis":null},"y":{"field":"y0","type":"quantitative","scale":{"domain":[0,25],"nice":false},"axis":null},"y2":{"field":"y1"},"color":{"field":"s","type":"nominal","scale":{"domain":["r","b"],"range":["#ff0000","#0000ff"]},"legend":null}}},
{"data":{"name":"stars"},"transform":[{"filter":"datum.p=='S14'"}],"mark":{"type":"point","shape":"M-1,0L1,0M0,-1L0,1M-0.7,-0.7L0.7,0.7M-0.7,0.7L0.7,-0.7","filled":false,"size":130,"strokeWidth":1.3,"opacity":0.8},"encoding":{"x":{"field":"x","type":"quantitative","scale":{"domain":[0,4]},"axis":null},"y":{"field":"y","type":"quantitative","scale":{"domain":[0,25],"nice":false},"axis":null},"color":{"field":"s","type":"nominal","scale":{"domain":["r","b"],"range":["#ff0000","#0000ff"]},"legend":null}}}
]},
{"title":"S15","width":142,"height":179,"resolve":{"scale":{"x":"independent","y":"independent"},"axis":{"x":"independent","y":"independent"}},"layer":[
{"data":{"name":"curves"},"transform":[{"filter":"datum.p=='S15'&&datum.s=='r'"}],"mark":{"type":"line","color":"#ff0000","opacity":0.62,"strokeWidth":1.5,"interpolate":"monotone"},"encoding":{"x":{"field":"x","type":"quantitative","scale":{"domain":[0,4]},"axis":{"orient":"bottom","values":[0,2,4],"title":"Ce (μg/ml)"}},"y":{"field":"y","type":"quantitative","scale":{"domain":[0,25],"nice":false},"axis":{"orient":"left","values":[0,10,20],"title":null}}}},
{"data":{"name":"curves"},"transform":[{"filter":"datum.p=='S15'&&datum.s=='b'"}],"mark":{"type":"line","color":"#0000ff","opacity":0.38,"strokeWidth":1.4,"strokeDash":[4,1.5],"interpolate":"monotone"},"encoding":{"x":{"field":"x","type":"quantitative","scale":{"domain":[0,4]},"axis":{"orient":"top","values":[0,2,4],"labels":false,"title":null}},"y":{"field":"y","type":"quantitative","scale":{"domain":[0,25],"nice":false},"axis":{"orient":"right","values":[0,10,20],"labels":false,"title":null}}}},
{"data":{"name":"vlines"},"transform":[{"filter":"datum.p=='S15'"}],"mark":{"type":"rule","strokeWidth":1.6,"opacity":0.65},"encoding":{"x":{"field":"x","type":"quantitative","scale":{"domain":[0,4]},"axis":null},"y":{"field":"y0","type":"quantitative","scale":{"domain":[0,25],"nice":false},"axis":null},"y2":{"field":"y1"},"color":{"field":"s","type":"nominal","scale":{"domain":["r","b"],"range":["#ff0000","#0000ff"]},"legend":null}}},
{"data":{"name":"stars"},"transform":[{"filter":"datum.p=='S15'"}],"mark":{"type":"point","shape":"M-1,0L1,0M0,-1L0,1M-0.7,-0.7L0.7,0.7M-0.7,0.7L0.7,-0.7","filled":false,"size":130,"strokeWidth":1.3,"opacity":0.8},"encoding":{"x":{"field":"x","type":"quantitative","scale":{"domain":[0,4]},"axis":null},"y":{"field":"y","type":"quantitative","scale":{"domain":[0,25],"nice":false},"axis":null},"color":{"field":"s","type":"nominal","scale":{"domain":["r","b"],"range":["#ff0000","#0000ff"]},"legend":null}}}
]},
{"title":"S16","width":142,"height":179,"resolve":{"scale":{"x":"independent","y":"independent"},"axis":{"x":"independent","y":"independent"}},"layer":[
{"data":{"name":"curves"},"transform":[{"filter":"datum.p=='S16'&&datum.s=='r'"}],"mark":{"type":"line","color":"#ff0000","opacity":0.62,"strokeWidth":1.5,"interpolate":"monotone"},"encoding":{"x":{"field":"x","type":"quantitative","scale":{"domain":[0,4]},"axis":{"orient":"bottom","values":[0,2,4],"title":"Ce (μg/ml)"}},"y":{"field":"y","type":"quantitative","scale":{"domain":[0,25],"nice":false},"axis":{"orient":"left","values":[0,10,20],"title":null}}}},
{"data":{"name":"curves"},"transform":[{"filter":"datum.p=='S16'&&datum.s=='b'"}],"mark":{"type":"line","color":"#0000ff","opacity":0.38,"strokeWidth":1.4,"strokeDash":[4,1.5],"interpolate":"monotone"},"encoding":{"x":{"field":"x","type":"quantitative","scale":{"domain":[0,4]},"axis":{"orient":"top","values":[0,2,4],"labels":false,"title":null}},"y":{"field":"y","type":"quantitative","scale":{"domain":[0,25],"nice":false},"axis":{"orient":"right","values":[0,10,20],"labels":false,"title":null}}}},
{"data":{"name":"vlines"},"transform":[{"filter":"datum.p=='S16'"}],"mark":{"type":"rule","strokeWidth":1.6,"opacity":0.65},"encoding":{"x":{"field":"x","type":"quantitative","scale":{"domain":[0,4]},"axis":null},"y":{"field":"y0","type":"quantitative","scale":{"domain":[0,25],"nice":false},"axis":null},"y2":{"field":"y1"},"color":{"field":"s","type":"nominal","scale":{"domain":["r","b"],"range":["#ff0000","#0000ff"]},"legend":null}}},
{"data":{"name":"stars"},"transform":[{"filter":"datum.p=='S16'"}],"mark":{"type":"point","shape":"M-1,0L1,0M0,-1L0,1M-0.7,-0.7L0.7,0.7M-0.7,0.7L0.7,-0.7","filled":false,"size":130,"strokeWidth":1.3,"opacity":0.8},"encoding":{"x":{"field":"x","type":"quantitative","scale":{"domain":[0,4]},"axis":null},"y":{"field":"y","type":"quantitative","scale":{"domain":[0,25],"nice":false},"axis":null},"color":{"field":"s","type":"nominal","scale":{"domain":["r","b"],"range":["#ff0000","#0000ff"]},"legend":null}}}
]}
],
"config":{
"view":{"stroke":"#777777","strokeWidth":1.5},
"axis":{"grid":false,"domain":false,"tickColor":"#777777","tickWidth":1,"tickSize":-5,"labelFont":"Liberation Sans","labelFontSize":17,"labelColor":"#4a4a4a","titleFont":"Liberation Sans","titleFontSize":19,"titleFontWeight":"normal","titleColor":"#4a4a4a"},
"axisBottom":{"labelPadding":22,"titlePadding":6,"titleFontSize":20},
"axisLeft":{"labelPadding":15,"titleAngle":270,"titleBaseline":"bottom","titleAlign":"center"},
"title":{"font":"Liberation Sans","fontSize":21,"fontWeight":"bold","color":"#111111","offset":3,"baseline":"alphabetic"}
}
}
